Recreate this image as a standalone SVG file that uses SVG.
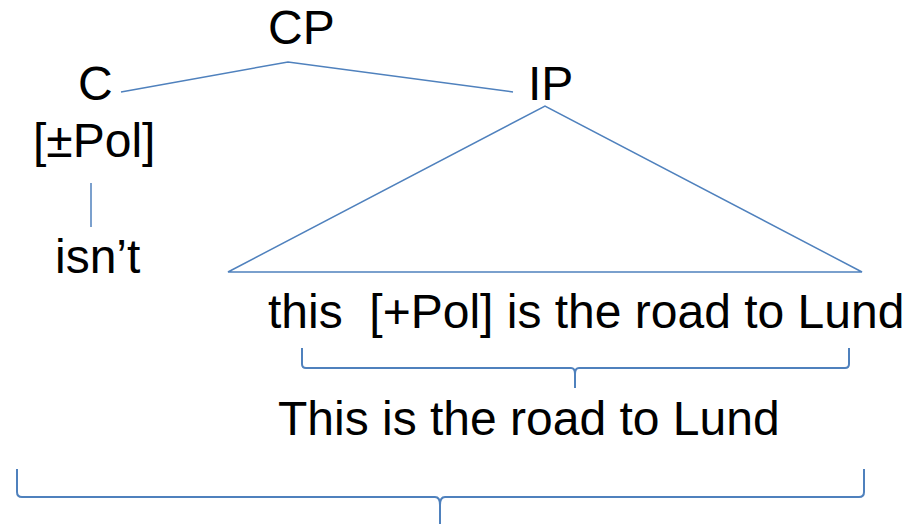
<svg xmlns="http://www.w3.org/2000/svg" width="908" height="526" viewBox="0 0 908 526">
  <style>
    .lbl { font-family: "Liberation Sans", Arial, sans-serif; font-size: 48px; fill: #000; }
    .edge { stroke: #4f81bd; stroke-width: 1.5; fill: none; }
    .brace { stroke: #4f81bd; stroke-width: 2; fill: none; stroke-linejoin: round; }
  </style>
  <rect width="908" height="526" fill="#fff"/>

  <g id="connectors">
    <polyline class="edge" points="121,92 288,62 513,92"/>
    <line class="edge" x1="91" y1="183" x2="91" y2="227"/>
    <polygon class="edge" points="228,272 545,106 862,272"/>
    <path class="brace" d="M302,348 L302,364 Q302,368 306,368 L571,368 Q575,368 575,374 L575,388 M575,374 Q575,368 579,368 L845,368 Q849,368 849,364 L849,348"/>
    <path class="brace" d="M17,469 L17,492 Q17,497 22,497 L435,497 Q440,497 440,505 L440,524 M440,505 Q440,497 445,497 L859,497 Q864,497 864,492 L864,469"/>
  </g>

  <g id="node-CP"><text class="lbl" x="268" y="44">CP</text></g>
  <g id="node-C"><text class="lbl" x="78" y="100">C</text></g>
  <g id="node-IP"><text class="lbl" x="528" y="100">IP</text></g>
  <g id="node-feature"><text class="lbl" x="33" y="157">[±Pol]</text></g>
  <g id="node-isnt"><text class="lbl" x="55" y="273">isn’t</text></g>
  <g id="node-clause"><text class="lbl" x="268" y="328" xml:space="preserve">this  [+Pol] is the road to Lund</text></g>
  <g id="node-gloss"><text class="lbl" x="278" y="435">This is the road to Lund</text></g>
</svg>
